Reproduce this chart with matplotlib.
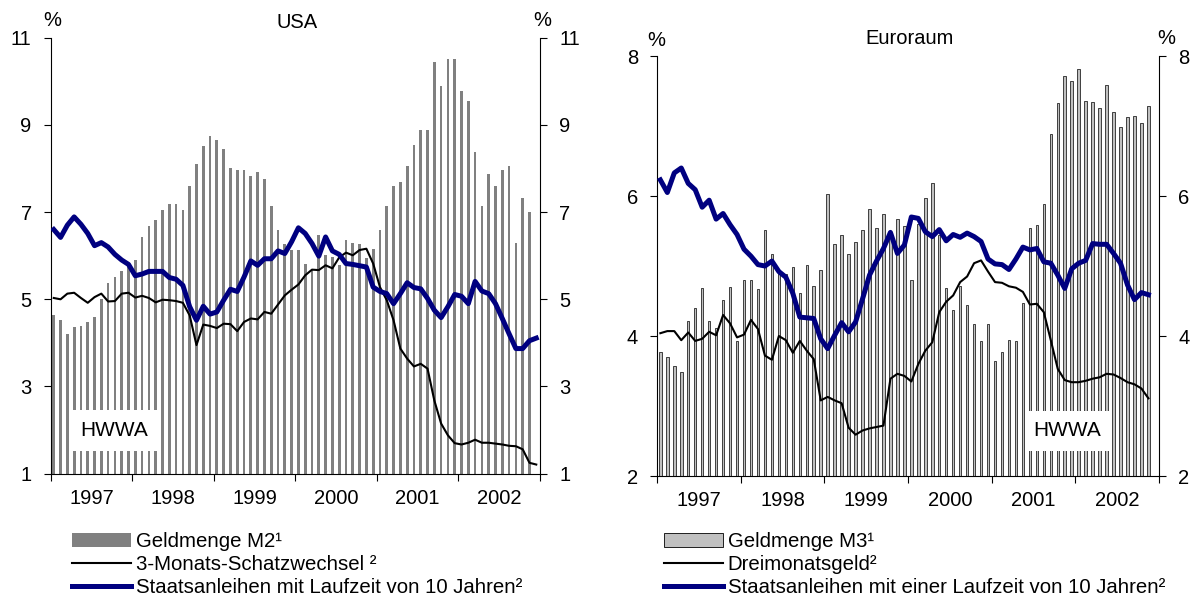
import numpy as np
import matplotlib
matplotlib.use("Agg")
import matplotlib.pyplot as plt
from matplotlib.patches import Rectangle, Patch
from matplotlib.lines import Line2D

plt.rcParams['font.family'] = ['Liberation Sans', 'DejaVu Sans']

years = ['1997', '1998', '1999', '2000', '2001', '2002']

# USA, monthly
usa_m2 = [4.63, 4.53, 4.21, 4.36, 4.38, 4.47, 4.59, 5.00, 5.37, 5.51, 5.66, 5.82,
          5.89, 6.43, 6.67, 6.81, 7.04, 7.19, 7.19, 7.04, 7.61, 8.11, 8.51, 8.74,
          8.65, 8.45, 8.00, 7.96, 7.97, 7.82, 7.93, 7.77, 7.13, 6.58, 6.26, 6.12,
          6.12, 5.82, 5.70, 6.47, 6.01, 5.97, 5.78, 6.36, 6.28, 6.27, 5.95, 6.16,
          6.60, 7.13, 7.61, 7.68, 8.05, 8.53, 8.88, 8.88, 10.44, 9.89, 10.50, 10.50,
          9.77, 9.54, 8.37, 7.13, 7.88, 7.59, 7.96, 8.05, 6.29, 7.33, 7.01]
usa_3m = [5.03, 5.00, 5.13, 5.15, 5.03, 4.92, 5.05, 5.13, 4.95, 4.96, 5.13, 5.15,
          5.04, 5.08, 5.03, 4.93, 4.99, 4.98, 4.96, 4.92, 4.63, 3.95, 4.42, 4.39,
          4.34, 4.44, 4.43, 4.27, 4.48, 4.56, 4.54, 4.71, 4.67, 4.88, 5.09, 5.22,
          5.34, 5.55, 5.68, 5.67, 5.78, 5.71, 5.96, 6.07, 6.01, 6.13, 6.16, 5.82,
          5.28, 4.98, 4.52, 3.87, 3.64, 3.46, 3.52, 3.41, 2.68, 2.15, 1.88, 1.70,
          1.67, 1.71, 1.78, 1.71, 1.71, 1.69, 1.67, 1.64, 1.63, 1.56, 1.25, 1.21]
usa_10y = [6.60, 6.42, 6.70, 6.89, 6.72, 6.51, 6.23, 6.30, 6.20, 6.03, 5.90, 5.80,
           5.54, 5.58, 5.64, 5.64, 5.64, 5.50, 5.46, 5.32, 4.83, 4.52, 4.84, 4.66,
           4.71, 4.98, 5.23, 5.18, 5.51, 5.88, 5.78, 5.93, 5.93, 6.11, 6.05, 6.32,
           6.64, 6.51, 6.28, 5.99, 6.43, 6.11, 6.03, 5.82, 5.80, 5.77, 5.74, 5.28,
           5.18, 5.13, 4.90, 5.13, 5.38, 5.27, 5.24, 5.02, 4.75, 4.58, 4.83, 5.11,
           5.07, 4.90, 5.41, 5.19, 5.13, 4.90, 4.56, 4.21, 3.87, 3.87, 4.05, 4.11]

# Euroraum, monthly
eu_m3 = [3.77, 3.70, 3.57, 3.48, 4.22, 4.40, 4.68, 4.21, 4.12, 4.52, 4.70, 3.93,
         4.80, 4.80, 4.67, 5.51, 5.17, 4.90, 4.88, 4.99, 4.61, 5.02, 4.72, 4.94,
         6.03, 5.31, 5.44, 5.17, 5.34, 5.51, 5.81, 5.55, 5.74, 5.45, 5.67, 5.57,
         4.80, 5.60, 5.97, 6.18, 5.45, 4.68, 4.37, 4.72, 4.45, 4.17, 3.93, 4.17,
         3.64, 3.77, 3.94, 3.93, 4.47, 5.55, 5.58, 5.88, 6.88, 7.33, 7.71, 7.65,
         7.82, 7.36, 7.35, 7.26, 7.59, 7.20, 6.99, 7.13, 7.15, 7.04, 7.28]
eu_3m = [4.04, 4.07, 4.07, 3.94, 4.05, 3.93, 3.96, 4.06, 4.01, 4.30, 4.18, 3.98,
         4.02, 4.23, 4.10, 3.72, 3.66, 4.00, 3.94, 3.76, 3.93, 3.79, 3.67, 3.08,
         3.13, 3.08, 3.04, 2.69, 2.59, 2.65, 2.68, 2.70, 2.72, 3.39, 3.46, 3.43,
         3.35, 3.60, 3.79, 3.91, 4.34, 4.49, 4.58, 4.77, 4.85, 5.04, 5.08, 4.92,
         4.77, 4.76, 4.71, 4.69, 4.63, 4.45, 4.46, 4.34, 3.94, 3.53, 3.37, 3.34,
         3.34, 3.36, 3.39, 3.41, 3.46, 3.45, 3.40, 3.34, 3.31, 3.25, 3.11]
eu_10y = [6.23, 6.05, 6.33, 6.40, 6.18, 6.09, 5.84, 5.94, 5.67, 5.75, 5.59, 5.45,
          5.24, 5.14, 5.02, 5.00, 5.07, 4.92, 4.84, 4.61, 4.27, 4.26, 4.25, 3.96,
          3.82, 4.01, 4.19, 4.06, 4.20, 4.53, 4.87, 5.07, 5.25, 5.48, 5.18, 5.30,
          5.70, 5.68, 5.49, 5.42, 5.52, 5.36, 5.45, 5.41, 5.47, 5.42, 5.35, 5.10,
          5.03, 5.02, 4.95, 5.10, 5.27, 5.23, 5.25, 5.06, 5.04, 4.87, 4.68, 4.96,
          5.04, 5.08, 5.32, 5.31, 5.31, 5.18, 5.04, 4.73, 4.52, 4.62, 4.59]

W, H = 1193, 610
BLUE = '#000080'
FS = 14.5
fig = plt.figure(figsize=(W / 100, H / 100), dpi=100)


def px_axes(x0, y0, x1, y1):
    return fig.add_axes([x0 / W, 1 - y1 / H, (x1 - x0) / W, (y1 - y0) / H])


def setup(ax, ylo, yhi):
    ax.set_xlim(0, 72)
    ax.set_ylim(ylo, yhi)
    ax.set_yticks(np.arange(ylo, yhi + 0.1, 2))
    ax.set_xticks(np.arange(0, 73, 12))
    ax.set_xticklabels([])
    ax.set_xticks(np.arange(6, 72, 12), minor=True)
    ax.set_xticklabels(years, minor=True)
    ax.spines['top'].set_visible(False)
    for s in ('left', 'right', 'bottom'):
        ax.spines[s].set_linewidth(0.8)
    ax.tick_params(axis='y', which='major', direction='out', length=5.2, width=0.8,
                   left=True, right=True, labelleft=True, labelright=True,
                   labelsize=FS, pad=8.5)
    ax.tick_params(axis='x', which='major', direction='out', length=5.2, width=0.8)
    ax.tick_params(axis='x', which='minor', length=0, labelsize=FS, pad=11)


def hwwa(ax, x0, y0, x1, y1):
    ax.add_patch(Rectangle((x0, y0), x1 - x0, y1 - y0, transform=ax.transAxes,
                           facecolor='white', edgecolor='none', zorder=3))
    ax.text((x0 + x1) / 2, (y0 + y1) / 2, 'HWWA', transform=ax.transAxes,
            ha='center', va='center', fontsize=15, zorder=5)


def legend(handles, labels, x):
    fig.legend(handles, labels, loc='upper left', bbox_to_anchor=(x / W, 1 - 532 / H),
               frameon=False, fontsize=14.7, handlelength=2.9, handleheight=0.7,
               handletextpad=0.22, labelspacing=0.2, borderpad=0, borderaxespad=0)


# ---- USA ----
ax1 = px_axes(50.7, 37.7, 540, 473.7)
setup(ax1, 1, 11)
xb = np.arange(len(usa_m2)) + 0.45
xl = np.arange(len(usa_3m)) + 0.45
ax1.bar(xb, np.array(usa_m2) - 1, bottom=1, width=0.4, color='#808080',
        edgecolor='none', zorder=2)
ax1.plot(xl, usa_3m, color='black', lw=1.5, zorder=4)
ax1.plot(xl, usa_10y, color=BLUE, lw=3.6, zorder=4, solid_joinstyle='round')
hwwa(ax1, 0.039, 0.052, 0.219, 0.146)

fig.text(297 / W, 1 - 23 / H, 'USA', ha='center', va='center', fontsize=FS)
fig.text(52 / W, 1 - 21 / H, '%', ha='center', va='center', fontsize=FS)
fig.text(542.5 / W, 1 - 21 / H, '%', ha='center', va='center', fontsize=FS)

h1 = [Patch(facecolor='#808080', edgecolor='none'),
      Line2D([], [], color='black', lw=1.5),
      Line2D([], [], color=BLUE, lw=3.6)]
l1 = ['Geldmenge M2¹', '3-Monats-Schatzwechsel ²',
      'Staatsanleihen mit Laufzeit von 10 Jahren²']
legend(h1, l1, 72)

# ---- Euroraum ----
ax2 = px_axes(657, 56, 1159, 476)
setup(ax2, 2, 8)
xb = np.arange(len(eu_m3)) + 0.48
xl = np.arange(len(eu_3m)) + 0.48
ax2.bar(xb, np.array(eu_m3) - 2, bottom=2, width=0.36, color='#c0c0c0',
        edgecolor='black', linewidth=0.5, zorder=2)
ax2.plot(xl, eu_3m, color='black', lw=1.5, zorder=4)
ax2.plot(xl, eu_10y, color=BLUE, lw=3.6, zorder=4, solid_joinstyle='round')
hwwa(ax2, 0.733, 0.06, 0.900, 0.155)

fig.text(910 / W, 1 - 38 / H, 'Euroraum', ha='center', va='center', fontsize=FS)
fig.text(656 / W, 1 - 40 / H, '%', ha='center', va='center', fontsize=FS)
fig.text(1166 / W, 1 - 38 / H, '%', ha='center', va='center', fontsize=FS)

h2 = [Patch(facecolor='#c0c0c0', edgecolor='black', linewidth=0.6),
      Line2D([], [], color='black', lw=1.5),
      Line2D([], [], color=BLUE, lw=3.6)]
l2 = ['Geldmenge M3¹', 'Dreimonatsgeld²',
      'Staatsanleihen mit einer Laufzeit von 10 Jahren²']
legend(h2, l2, 664)

fig.savefig('out.png', dpi=100)
